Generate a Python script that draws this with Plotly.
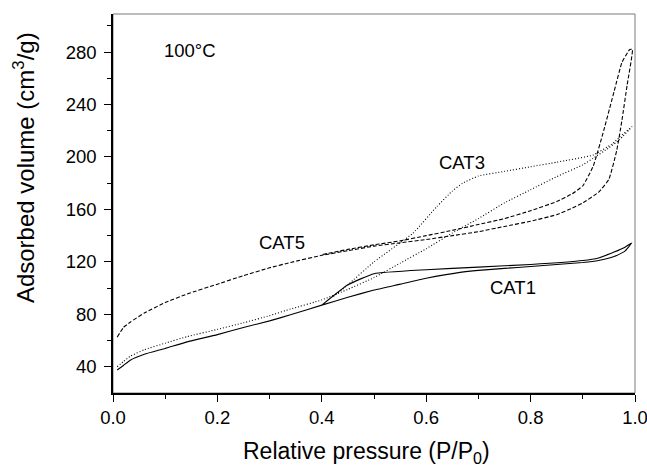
import plotly.graph_objects as go

# CAT1 (solid)
cat1_ads_x = [0.008, 0.02, 0.033, 0.06, 0.1, 0.142, 0.2, 0.25, 0.3, 0.34, 0.4, 0.45, 0.5, 0.55, 0.6, 0.665, 0.7, 0.75, 0.8, 0.85, 0.9, 0.93, 0.96, 0.98, 0.994]
cat1_ads_y = [37.5, 41, 45, 49.5, 54, 59, 64.5, 70, 75, 79.6, 87, 93, 98.5, 103, 107.5, 112, 113.5, 115, 116.5, 118, 119.5, 121, 124, 128, 134.5]
cat1_des_x = [0.98, 0.96, 0.93, 0.9, 0.8, 0.7, 0.6, 0.5, 0.45, 0.4]
cat1_des_y = [131, 127.5, 123, 121, 118, 116, 114, 111, 102.5, 87]

# CAT3 (dotted)
cat3_ads_x = [0.008, 0.02, 0.033, 0.06, 0.1, 0.142, 0.2, 0.25, 0.3, 0.34, 0.4, 0.45, 0.5, 0.55, 0.6, 0.65, 0.7, 0.75, 0.8, 0.85, 0.9, 0.92, 0.95, 0.97, 0.994]
cat3_ads_y = [40, 44, 48, 53, 58, 63, 68.5, 73.5, 79, 84, 91, 99, 108, 119, 130, 142, 153, 165, 175, 185, 194, 199, 207, 213, 223]
cat3_des_x = [0.97, 0.958, 0.92, 0.85, 0.8, 0.75, 0.7, 0.67, 0.65, 0.62, 0.575, 0.5, 0.45, 0.42]
cat3_des_y = [215, 210.5, 201.5, 196, 192.5, 189, 185.5, 180, 174, 162, 142, 120, 102.5, 93]

# CAT5 (dashed)
cat5_ads_x = [0.008, 0.02, 0.033, 0.06, 0.1, 0.142, 0.2, 0.25, 0.3, 0.34, 0.4, 0.45, 0.5, 0.55, 0.6, 0.65, 0.7, 0.75, 0.8, 0.85, 0.88, 0.9, 0.93, 0.95, 0.965, 0.975, 0.985, 0.995]
cat5_ads_y = [62.5, 70, 74, 81, 89, 95.5, 103, 109.5, 115.5, 119.5, 125, 128.5, 132, 134.5, 137, 140, 143, 147, 151, 156, 161, 165, 173, 183, 205, 228, 255, 282]
cat5_des_x = [0.99, 0.975, 0.96, 0.94, 0.92, 0.9, 0.88, 0.85, 0.8, 0.75, 0.7, 0.65, 0.6, 0.55, 0.5, 0.45, 0.4]
cat5_des_y = [282, 272, 250, 220, 193, 178, 172, 166, 159, 153, 148.5, 144, 140, 136, 133, 129.5, 125.5]

labels = ["CAT1", "CAT3", "CAT5"]
label_x = [0.767, 0.668, 0.323]
label_y = [100.6, 195.4, 135]

x_ticks = [0.0, 0.2, 0.4, 0.6, 0.8, 1.0]
x_minor = [0.1, 0.3, 0.5, 0.7, 0.9]
y_ticks = [40, 80, 120, 160, 200, 240, 280]
y_minor = [60, 100, 140, 180, 220, 260, 300]

FONT = "Liberation Sans, Arial, sans-serif"

fig = go.Figure()
series = [
    (cat1_ads_x + cat1_des_x, cat1_ads_y + cat1_des_y, "solid"),
    (cat3_ads_x + cat3_des_x, cat3_ads_y + cat3_des_y, "1px,2px"),
    (cat5_ads_x + cat5_des_x, cat5_ads_y + cat5_des_y, "4px,2px"),
]
for (xs, ys, dash), name in zip(series, labels):
    fig.add_trace(go.Scatter(x=xs, y=ys, mode="lines", name=name,
                             line=dict(color="black", width=1.1, dash=dash,
                                       shape="spline", smoothing=0.4),
                             showlegend=False))

for t, lx, ly in zip(labels, label_x, label_y):
    fig.add_annotation(x=lx, y=ly, text=t, showarrow=False,
                       font=dict(family=FONT, size=18.5, color="black"))

fig.add_annotation(x=0.148, y=281, text="100°C", showarrow=False,
                   font=dict(family=FONT, size=18.5, color="black"))

fig.add_annotation(xref="paper", yref="paper", x=-0.1705, y=0.596,
                   text="Adsorbed volume (cm<sup>3</sup>/g)", textangle=-90,
                   showarrow=False, xanchor="center", yanchor="middle",
                   font=dict(family=FONT, size=24, color="black"))
fig.add_annotation(xref="paper", yref="paper", x=0.486, y=-0.156,
                   text="Relative pressure (P/P<sub>0</sub>)",
                   showarrow=False, xanchor="center", yanchor="middle",
                   font=dict(family=FONT, size=23, color="black"))

fig.add_shape(type="rect", xref="paper", yref="paper", x0=0, y0=0, x1=1, y1=1,
              line=dict(color="#7a7a7a", width=1), layer="below")

axis_common = dict(showgrid=False, zeroline=False, showline=True, linecolor="black",
                   linewidth=1.6, ticks="outside", ticklen=7, tickwidth=1.4,
                   tickcolor="black", ticklabeloverflow="allow", automargin=False,
                   tickfont=dict(family=FONT, size=18.5, color="black"))

fig.update_xaxes(range=[0, 1.0], tickmode="array", tickvals=x_ticks,
                 ticktext=[f"{v:.1f}" for v in x_ticks],
                 minor=dict(ticks="outside", ticklen=4, tickwidth=1.2, tickvals=x_minor, tickcolor="black"),
                 **axis_common)
fig.update_yaxes(range=[20, 309], tickmode="array", tickvals=y_ticks,
                 ticktext=[str(v) for v in y_ticks], ticklabelstandoff=4,
                 minor=dict(ticks="outside", ticklen=4, tickwidth=1.2, tickvals=y_minor, tickcolor="black"),
                 **axis_common)

fig.update_layout(width=647, height=470, margin=dict(l=113, r=12, t=14, b=77, autoexpand=False),
                  paper_bgcolor="white", plot_bgcolor="white",
                  font=dict(family=FONT, color="black"))

fig.write_html("out.html")
